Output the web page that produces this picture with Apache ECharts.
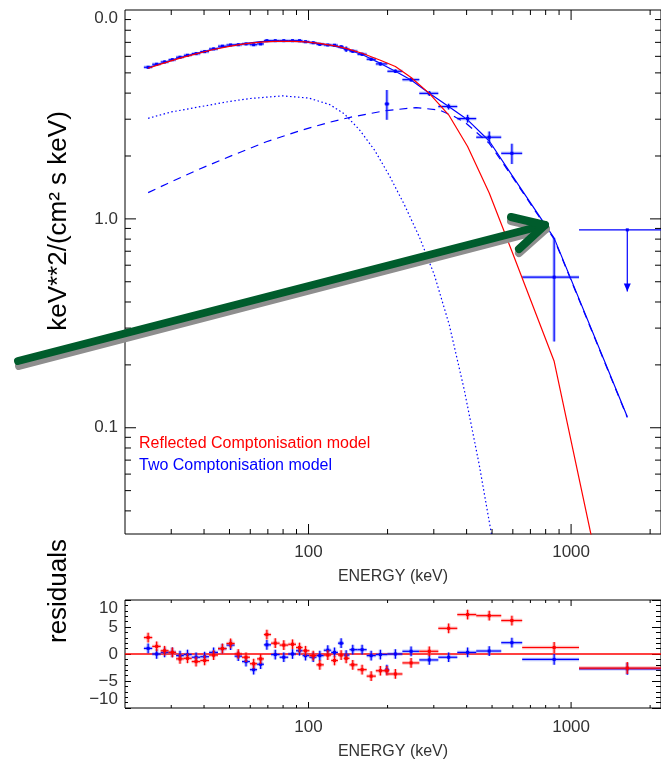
<!DOCTYPE html>
<html><head><meta charset="utf-8">
<script src="https://cdn.jsdelivr.net/npm/echarts@6/dist/echarts.min.js"></script>
<style>html,body{margin:0;padding:0;background:#fff}#c{width:661px;height:761px}</style>
</head><body><div id="c"></div>
<script>
// ---------------- data ----------------
const energy   = [24.5,26.4,28.3,30.3,32.4,34.6,37.3,40.2,43.5,47.0,50.5,54.0,57.8,61.8,65.7,69.4,74.7,80.5,86.9,92.4,97.4,104.2,110.4,118.4,125.6,133.1,139.1,147.4,160.0,173.2,187.8,198.8,214.2,245.8,288.4,341.7,403.5,487.8,595,862,1637];
const energyLo = [23.6,25.4,27.35,29.3,31.3,33.5,35.9,38.7,41.8,45.2,48.7,52.3,55.8,59.8,63.7,67.6,72.0,77.6,83.7,89.6,94.9,100.8,107.2,114.3,122.0,129.4,136.1,143.2,153.6,166.5,180.4,195,199.7,227.8,264.2,312.1,368.6,435.3,541.9,651.3,1072];
const energyHi = [25.4,27.35,29.3,31.3,33.5,35.9,38.7,41.8,45.2,48.7,52.3,55.8,59.8,63.7,67.6,72.0,77.6,83.7,89.6,94.9,100.8,107.2,114.3,122.0,129.4,136.1,143.2,153.6,166.5,180.4,199.7,203,227.8,264.2,312.1,368.6,435.3,541.9,651.3,1072,2500];
const flux     = [5.32,5.50,5.64,5.78,5.94,6.07,6.18,6.32,6.51,6.71,6.80,6.82,6.88,6.82,6.88,7.13,7.13,7.13,7.13,7.13,7.05,6.97,6.85,6.80,6.78,6.67,6.49,6.35,6.14,5.81,5.52,3.55,5.09,4.64,3.99,3.45,3.02,2.46,2.06,0.526,0.886];
const fluxLo   = [5.24,5.42,5.56,5.70,5.86,5.99,6.10,6.24,6.43,6.63,6.72,6.74,6.80,6.74,6.80,7.05,7.05,7.05,7.05,7.05,6.97,6.89,6.77,6.72,6.70,6.59,6.29,6.25,6.04,5.71,5.42,2.98,4.99,4.54,3.88,3.34,2.89,2.30,1.83,0.259,0.449];
const fluxHi   = [5.40,5.58,5.72,5.86,6.02,6.15,6.26,6.40,6.59,6.79,6.88,6.90,6.96,6.90,6.96,7.21,7.21,7.21,7.21,7.21,7.13,7.05,6.93,6.88,6.86,6.75,6.69,6.45,6.24,5.91,5.62,4.14,5.19,4.74,4.10,3.56,3.15,2.62,2.29,0.811,0.886];
const upperLimitEnergies = [1637];

const modelEnergy  = [24.5,28.3,32.4,37.3,43.5,50.5,57.8,65.7,74.7,86.9,97.4,110.4,125.6,139.1,160,187.8,214.2,245.8,288.4,341.7,403.5,487.8,595,862,1637];
const reflModel    = [5.26,5.58,5.88,6.17,6.47,6.72,6.90,7.02,7.08,7.08,7.03,6.92,6.74,6.55,6.21,5.75,5.36,4.75,3.99,3.15,2.22,1.33,0.70,0.208,0.0047];
const twoCompModel = [5.30,5.62,5.92,6.20,6.50,6.76,6.93,7.05,7.10,7.10,7.04,6.90,6.72,6.50,6.12,5.55,5.09,4.62,3.99,3.45,2.98,2.36,1.62,0.809,0.113];

const compDottedEnergy = [24.5,30,40,50.1,60,79.6,100,120.2,137.0,156.3,178.2,203.2,231.7,264.2,301.3,343.6,391.8,446.8,509.5];
const compDotted       = [3.03,3.25,3.47,3.65,3.77,3.88,3.79,3.53,3.18,2.67,2.14,1.61,1.17,0.82,0.54,0.311,0.152,0.0665,0.0261];
const compDashedEnergy = [24.5,28.8,38.5,51.6,69.1,92.4,120.2,147.0,197.4,256.8,314.8,359.1,397.8,487.8,595,862,1637];
const compDashed       = [1.336,1.47,1.734,2.02,2.34,2.64,2.90,3.08,3.30,3.41,3.32,3.09,2.87,2.30,1.60,0.80,0.112];

const residTwo  = [1.04,0,0.3,0.3,-0.3,-0.1,-0.6,-0.5,0.3,1.0,1.65,-0.4,-1.4,-2.9,-1.9,1.7,-0.1,-0.6,0,0.6,-0.3,-0.6,-0.3,0.7,0.3,2.0,-0.2,0.8,0.8,-0.3,-0.1,-2.9,0,0.5,-1.1,-0.6,0.3,0.55,2.1,-1.0,-2.75];
const residRefl = [3.05,1.41,0.6,0.3,-0.9,-0.8,-1.4,-1.2,-0.2,1.0,1.95,0,-0.6,-1.8,-0.9,3.6,2.0,1.65,1.8,1.2,0.6,-0.3,-2.0,-0.2,-1.2,-0.2,-0.8,-2.0,-2.9,-4.1,-3.1,-3.1,-3.7,-1.65,0.5,4.75,7.3,7.1,6.2,1.2,-2.6];
const residErr  = [0.9,0.9,0.9,0.9,0.9,0.9,0.9,0.9,0.9,0.9,0.9,0.9,0.9,0.9,0.9,0.9,0.9,0.9,0.9,0.9,0.9,0.9,0.9,0.9,0.9,0.9,0.9,0.9,0.9,0.9,0.9,0.9,0.9,0.9,0.9,0.9,0.9,0.9,0.9,1.0,1.1];

const xMajorTicks = [100,1000];
const xMinorTicks = [30,40,50,60,70,80,90,200,300,400,500,600,700,800,900,2000];
const xLabelValues = [100,1000];
const yMajorTicks = [0.1,1];
const yMinorTicks = [0.04,0.05,0.06,0.07,0.08,0.09,0.2,0.3,0.4,0.5,0.6,0.7,0.8,0.9,2,3,4,5,6,7,8,9];
const yLabelValues = [10,1,0.1];
const yLabelTexts  = ['0.0','1.0','0.1'];

// ---------------- chart ----------------
const RED = '#ff0000', BLUE = '#0000ff';
const FONT = 'Liberation Sans';
const X_MIN = 20, X_MAX = 2200, Y_MIN = 0.031, Y_MAX = 10;

const pts = energy.map((e,i)=>[e, flux[i], energyLo[i], energyHi[i], fluxLo[i], fluxHi[i], upperLimitEnergies.includes(e)?1:0]);
const resTwoPts  = energy.map((e,i)=>[e, residTwo[i],  energyLo[i], energyHi[i], residTwo[i]-residErr[i],  residTwo[i]+residErr[i], 0]);
const resReflPts = energy.map((e,i)=>[e, residRefl[i], energyLo[i], energyHi[i], residRefl[i]-residErr[i], residRefl[i]+residErr[i], 0]);

function ln(p,q,color,w){return {type:'line',shape:{x1:p[0],y1:p[1],x2:q[0],y2:q[1]},style:{stroke:color,lineWidth:w}};}
function errSeries(data, xi, yi, color, halo, z){
  return {type:'custom', xAxisIndex:xi, yAxisIndex:yi, data, clip:true, silent:true, z,
    encode:{x:0,y:1},
    renderItem:(params, api)=>{
      const E=api.value(0),F=api.value(1),lo=api.value(2),hi=api.value(3),fl=api.value(4),fh=api.value(5),ul=api.value(6);
      const c=api.coord([E,F]), a=api.coord([lo,F]), b=api.coord([hi,F]);
      const p1=api.coord([E,fl]), p2=api.coord([E,fh]);
      const ch=[];
      if(!ul){ ch.push(ln(a,b,halo,3.5)); ch.push(ln(p1,p2,halo,3.5)); }
      ch.push(ln(a,b,color,1.2));
      ch.push(ln(ul?c:p2,p1,color,1.2));
      if(ul) ch.push({type:'polygon',shape:{points:[[p1[0]-3.5,p1[1]-8],[p1[0]+3.5,p1[1]-8],[p1[0],p1[1]]]},style:{fill:color}});
      ch.push({type:'rect',shape:{x:c[0]-1.5,y:c[1]-1.5,width:3,height:3},style:{fill:color}});
      return {type:'group',children:ch};
    }};
}
function xTicks(values, xi, yi, yRef, len){
  return {type:'custom', xAxisIndex:xi, yAxisIndex:yi, silent:true, clip:false, z:6,
    data: values.map(v=>[v,yRef]), encode:{x:0,y:1},
    renderItem:(params, api)=>{
      const cs=params.coordSys; const x=api.coord([api.value(0),api.value(1)])[0];
      return {type:'group',children:[ln([x,cs.y],[x,cs.y+len],'#000',1), ln([x,cs.y+cs.height],[x,cs.y+cs.height-len],'#000',1)]};
    }};
}
function yTicks(values, xi, yi, xRef, len){
  return {type:'custom', xAxisIndex:xi, yAxisIndex:yi, silent:true, clip:false, z:6,
    data: values.map(v=>[xRef,v]), encode:{x:0,y:1},
    renderItem:(params, api)=>{
      const cs=params.coordSys; const y=api.coord([api.value(0),api.value(1)])[1];
      return {type:'group',children:[ln([cs.x,y],[cs.x+len,y],'#000',1), ln([cs.x+cs.width,y],[cs.x+cs.width-len,y],'#000',1)]};
    }};
}
const zip=(xs,ys)=>xs.map((x,i)=>[x,ys[i]]);

const labelStyle={fontFamily:FONT,fontSize:17,color:'#333'};
function xAxisCfg(gi, margin, gap){
  return {type:'log', gridIndex:gi, min:X_MIN, max:X_MAX, logBase:10,
    axisLine:{show:false}, axisTick:{show:false}, splitLine:{show:false}, minorTick:{show:false},
    axisLabel:Object.assign({margin, showMinLabel:false, showMaxLabel:false,
      formatter:v=>{const r=Math.round(v); return xLabelValues.some(t=>Math.abs(t-v)/t<1e-6)?String(r):'';}},labelStyle),
    name:'ENERGY (keV)', nameLocation:'middle', nameGap:gap,
    nameTextStyle:{fontFamily:FONT,fontSize:16,color:'#333'}};
}

const option={
  animation:false,
  backgroundColor:'#fff',
  grid:[
    {left:125, top:10, width:537, height:524, show:true, borderColor:'#000', borderWidth:1, backgroundColor:'transparent'},
    {left:125, top:600, width:537, height:110, show:true, borderColor:'#000', borderWidth:1, backgroundColor:'transparent'}
  ],
  xAxis:[xAxisCfg(0,10,35), xAxisCfg(1,11,36)],
  yAxis:[
    {type:'log', gridIndex:0, min:Y_MIN, max:Y_MAX, logBase:10,
     axisLine:{show:false}, axisTick:{show:false}, splitLine:{show:false},
     axisLabel:Object.assign({margin:7, verticalAlignMaxLabel:'top',
       formatter:v=>{const k=yLabelValues.findIndex(t=>Math.abs(t-v)/t<1e-6); return k>=0?yLabelTexts[k]:'';}},labelStyle)},
    {type:'value', gridIndex:1, min:-10, max:10, interval:5,
     axisLine:{show:false}, splitLine:{show:false},
     axisTick:{show:true, inside:true, length:6, lineStyle:{color:'#000'}},
     minorTick:{show:true, splitNumber:5, length:3, lineStyle:{color:'#000'}},
     axisLabel:Object.assign({margin:7, verticalAlignMaxLabel:'top', verticalAlignMinLabel:'bottom',
       formatter:v=>v<0?'\u2212'+Math.abs(v):String(v)},labelStyle)},
    {type:'value', gridIndex:1, position:'right', min:-10, max:10, interval:5,
     axisLine:{show:false}, splitLine:{show:false}, axisLabel:{show:false},
     axisTick:{show:true, inside:true, length:9, lineStyle:{color:'#000'}},
     minorTick:{show:true, splitNumber:5, length:5, lineStyle:{color:'#000'}}}
  ],
  legend:{left:129, top:431, orient:'vertical', icon:'none', itemWidth:0, itemHeight:0, itemGap:6, selectedMode:false,
    textStyle:{fontFamily:FONT,fontSize:16},
    data:[{name:'Reflected Comptonisation model',textStyle:{color:RED}},{name:'Two Comptonisation model',textStyle:{color:BLUE}}]},
  series:[
    {type:'line', name:'dotted component', xAxisIndex:0, yAxisIndex:0, data:zip(compDottedEnergy,compDotted), showSymbol:false, silent:true, z:2,
     lineStyle:{color:BLUE,width:1.2,type:[1.5,2.5]}},
    {type:'line', name:'dashed component', xAxisIndex:0, yAxisIndex:0, data:zip(compDashedEnergy,compDashed), showSymbol:false, silent:true, z:2,
     lineStyle:{color:BLUE,width:1.2,type:[8,6]}},
    {type:'line', name:'Two Comptonisation model', xAxisIndex:0, yAxisIndex:0, data:zip(modelEnergy,twoCompModel), showSymbol:false, silent:true, z:3,
     lineStyle:{color:BLUE,width:1.2}, itemStyle:{color:BLUE}},
    errSeries(pts,0,0,BLUE,'rgba(60,90,255,0.35)',4),
    {type:'line', name:'Reflected Comptonisation model', xAxisIndex:0, yAxisIndex:0, data:zip(modelEnergy,reflModel), showSymbol:false, silent:true, z:5,
     lineStyle:{color:RED,width:1.2}, itemStyle:{color:RED}},
    {type:'line', name:'zero', xAxisIndex:1, yAxisIndex:1, data:[[X_MIN,0],[X_MAX,0]], showSymbol:false, silent:true, z:2,
     lineStyle:{color:RED,width:1.5}},
    errSeries(resTwoPts,1,1,BLUE,'rgba(60,90,255,0.35)',3),
    errSeries(resReflPts,1,1,RED,'rgba(255,60,60,0.35)',4),
    xTicks(xMajorTicks,0,0,1,10), xTicks(xMinorTicks,0,0,1,5),
    yTicks(yMajorTicks,0,0,100,11), yTicks(yMinorTicks,0,0,100,6),
    xTicks(xMajorTicks,1,1,0,6), xTicks(xMinorTicks,1,1,0,3)
  ],
  graphic:[
    {type:'text', x:59, y:221, rotation:Math.PI/2, z:10,
     style:{text:'keV**2/(cm\u00b2 s keV)', font:'26px "Liberation Sans"', fill:'#000', textAlign:'center', textVerticalAlign:'middle'}},
    {type:'text', x:59, y:591, rotation:Math.PI/2, z:10,
     style:{text:'residuals', font:'26px "Liberation Sans"', fill:'#000', textAlign:'center', textVerticalAlign:'middle'}},
    // arrow shadow
    {type:'polyline', z:20, shape:{points:[[19,366],[546,229]]}, style:{stroke:'#8e8e8e',lineWidth:8,lineCap:'round',fill:null}},
    {type:'polyline', z:20, shape:{points:[[511,221],[546,229],[519,253]]}, style:{stroke:'#8e8e8e',lineWidth:8,lineCap:'round',lineJoin:'round',fill:null}},
    // arrow
    {type:'polyline', z:21, shape:{points:[[18,361],[545,225]]}, style:{stroke:'#005c2c',lineWidth:8,lineCap:'round',fill:null}},
    {type:'polyline', z:21, shape:{points:[[511,217],[545,225],[519,249]]}, style:{stroke:'#005c2c',lineWidth:8,lineCap:'round',lineJoin:'round',fill:null}}
  ]
};
const chart=echarts.init(document.getElementById('c'),null,{renderer:'canvas'});
chart.setOption(option);
</script></body></html>
